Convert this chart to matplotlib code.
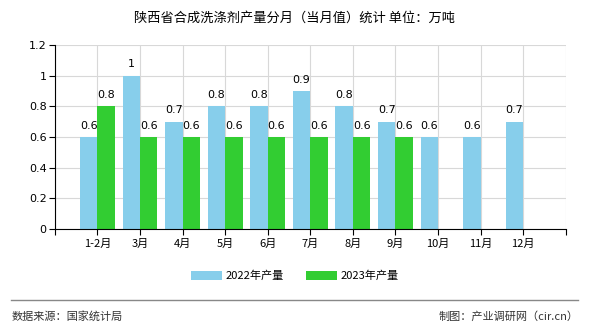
import numpy as np
import matplotlib.pyplot as plt

plt.rcParams['font.family'] = ['Noto Sans CJK SC', 'DejaVu Sans']

months = ["1-2月", "3月", "4月", "5月", "6月", "7月", "8月", "9月", "10月", "11月", "12月"]
output_2022 = [0.6, 1.0, 0.7, 0.8, 0.8, 0.9, 0.8, 0.7, 0.6, 0.6, 0.7]
output_2023 = [0.8, 0.6, 0.6, 0.6, 0.6, 0.6, 0.6, 0.6, None, None, None]
yticks = [0, 0.2, 0.4, 0.6, 0.8, 1.0, 1.2]
ytick_labels = ["0", "0.2", "0.4", "0.6", "0.8", "1", "1.2"]

BLUE = "#87CEEB"
GREEN = "#32CD32"

fig = plt.figure(figsize=(5.9, 3.3), dpi=100)
ax = fig.add_axes([0.093, 0.306, 0.866, 0.558])

x = np.arange(len(months))
w = 0.41

ax.bar(x - w / 2, output_2022, width=w, color=BLUE, label="2022年产量", zorder=2)
x23 = [xi for xi, v in zip(x, output_2023) if v is not None]
v23 = [v for v in output_2023 if v is not None]
ax.bar(np.array(x23) + w / 2, v23, width=w, color=GREEN, label="2023年产量", zorder=2)

for xi, v in zip(x, output_2022):
    ax.text(xi - w / 2, v + 0.04, f"{v:g}", ha="center", va="bottom", fontsize=8, family="DejaVu Sans")
for xi, v in zip(x23, v23):
    ax.text(xi + w / 2, v + 0.04, f"{v:g}", ha="center", va="bottom", fontsize=8, family="DejaVu Sans")

ax.set_xlim(-1, len(months) + 0.002)
ax.set_ylim(0, 1.2)
ax.set_yticks(yticks)
ax.set_yticklabels(ytick_labels, fontsize=8, family="DejaVu Sans")
ax.set_xticks(np.arange(-1, len(months) + 1))
ax.set_xticklabels([""] + months + [""], fontsize=8)

ax.grid(True, color="#d8d8d8", linewidth=0.8, zorder=0)
ax.set_axisbelow(True)
for s in ["top", "right"]:
    ax.spines[s].set_visible(False)
ax.spines["left"].set_color("black")
ax.spines["bottom"].set_color("black")
ax.tick_params(axis="both", length=4, width=0.8, pad=2)
ax.tick_params(axis="x", pad=3)

fig.text(0.5, 0.945, "陕西省合成洗涤剂产量分月（当月值）统计 单位：万吨", ha="center", va="center", fontsize=9.5)

fig.legend(loc="center", bbox_to_anchor=(0.5, 0.164), ncol=2, frameon=False, fontsize=8,
           handlelength=2.8, handleheight=0.9, columnspacing=2.0, handletextpad=0.3)

fig.add_artist(plt.Line2D([0.018, 0.98], [0.09, 0.09], transform=fig.transFigure, color="#888888", linewidth=1))
fig.text(0.02, 0.042, "数据来源：国家统计局", ha="left", va="center", fontsize=8, color="#333333")
fig.text(0.98, 0.042, "制图：产业调研网（cir.cn）", ha="right", va="center", fontsize=8, color="#333333")

fig.savefig("out.png", dpi=100)
